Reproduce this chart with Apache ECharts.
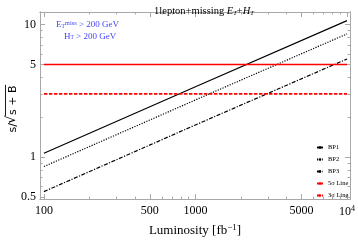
<!DOCTYPE html>
<html><head><meta charset="utf-8">
<script src="https://cdn.jsdelivr.net/npm/echarts@6/dist/echarts.min.js"></script>
<style>html,body{margin:0;padding:0;background:#fff}#c{width:358px;height:242px}</style>
</head><body><div id="c"></div>
<script>
const luminosity = [100, 1000, 10000];
const bp1 = [1.07, 3.4, 10.7];
const bp2 = [0.85, 2.7, 8.5];
const bp3 = [0.55, 1.75, 5.5];
const sigma5 = [5, 5, 5];
const sigma3 = [3, 3, 3];
const seriesNames = ['BP1', 'BP2', 'BP3', '5σ Line', '3σ Line'];
const xTickLabels = [100, 500, 1000, 5000, 10000];
const xMinorTicks = [200, 300, 400, 600, 700, 800, 900, 2000, 3000, 4000, 6000, 7000, 8000, 9000];
const yTickLabels = [0.5, 1, 5, 10];
const yMinorTicks = [0.6, 0.7, 0.8, 0.9, 2, 3, 4, 6, 7, 8, 9];

const FRAME = '#a8a8a8';
const SERIF = 'Liberation Serif';
const pairs = ys => luminosity.map((x, i) => [x, ys[i]]);

function xAx(pos, vals, len, labels) {
  return {
    type: 'log', logBase: 10, position: pos, min: 94.2, max: 10470,
    axisLine: { show: true, lineStyle: { color: FRAME, width: 1 } },
    axisTick: { show: true, inside: true, length: len, customValues: vals, lineStyle: { color: FRAME } },
    axisLabel: labels ? {
      show: true, customValues: vals, color: '#000', fontFamily: SERIF, fontSize: 12, margin: 6,
      formatter: v => (Math.abs(v - 10000) < 1 ? '{b|10}{p|4}' : String(Math.round(v))),
      rich: { b: { fontFamily: SERIF, fontSize: 12, color: '#000' }, p: { fontFamily: SERIF, fontSize: 8, color: '#000', verticalAlign: 'top', padding: [0, 0, 6, 0] } }
    } : { show: false },
    splitLine: { show: false }, minorTick: { show: false }
  };
}
function yAx(pos, vals, len, labels) {
  return {
    type: 'log', logBase: 10, position: pos, min: 0.483, max: 12.43,
    axisLine: { show: true, lineStyle: { color: FRAME, width: 1 } },
    axisTick: { show: true, inside: true, length: len, customValues: vals, lineStyle: { color: FRAME } },
    axisLabel: labels ? {
      show: true, customValues: vals, color: '#000', fontFamily: SERIF, fontSize: 12, margin: 4,
      formatter: v => String(v)
    } : { show: false },
    splitLine: { show: false }, minorTick: { show: false }
  };
}

const xAxes = [xAx('bottom', xTickLabels, 5, true), xAx('bottom', xMinorTicks, 2.5, false), xAx('top', xTickLabels, 5, false), xAx('top', xMinorTicks, 2.5, false)];
xAxes[0].name = 'Luminosity [fb{s|−1}]';
xAxes[0].nameLocation = 'middle';
xAxes[0].nameGap = 22;
xAxes[0].nameTextStyle = { fontFamily: SERIF, fontSize: 13, color: '#000', rich: { s: { fontFamily: SERIF, fontSize: 9, color: '#000', verticalAlign: 'top', padding: [0, 0, 6, 0] } } };
const yAxes = [yAx('left', yTickLabels, 5, true), yAx('left', yMinorTicks, 2.5, false), yAx('right', yTickLabels, 5, false), yAx('right', yMinorTicks, 2.5, false)];

// y-axis title s/sqrt(s+B), drawn as rotated group
const YF = '11px "DejaVu Sans"';
const mctx = document.createElement('canvas').getContext('2d');
mctx.font = YF;
const wPre = mctx.measureText('s/').width;
mctx.font = '13px "DejaVu Sans"';
const wRad = mctx.measureText('√').width;
mctx.font = YF;
const wIn = mctx.measureText('s + B').width;
const wTot = wPre + wRad + wIn;
const x0 = -wTot / 2;
const yTitle = {
  type: 'group', x: 13, y: 109, rotation: Math.PI / 2, silent: true,
  children: [
    { type: 'text', x: x0, y: 0, style: { text: 's/', font: YF, fill: '#000', textVerticalAlign: 'middle', textAlign: 'left' } },
    { type: 'text', x: x0 + wPre - 0.5, y: -1, style: { text: '√', font: '13px "DejaVu Sans"', fill: '#000', textVerticalAlign: 'middle', textAlign: 'left' } },
    { type: 'text', x: x0 + wPre + wRad, y: 0.5, style: { text: 's + B', font: YF, fill: '#000', textVerticalAlign: 'middle', textAlign: 'left' } },
    { type: 'line', shape: { x1: x0 + wPre + wRad - 1, y1: -7.5, x2: x0 + wTot + 0.5, y2: -7.5 }, style: { stroke: '#000', lineWidth: 0.9 } }
  ]
};

function ser(name, ys, color, type, width) {
  return { name, type: 'line', data: pairs(ys), xAxisIndex: 0, yAxisIndex: 0, symbol: 'none', silent: true, animation: false,
    lineStyle: { color, width, type }, itemStyle: { color } };
}

const BLUE = '#4646ff';
const chart = echarts.init(document.getElementById('c'), null, { renderer: 'canvas' });
chart.setOption({
  animation: false,
  backgroundColor: '#fff',
  title: {
    text: '1lepton+missing {i|E}{s|T}+{i|H}{s|T}', left: 199, textAlign: 'center', top: 1,
    textStyle: { fontFamily: SERIF, fontSize: 10.5, fontWeight: 'normal', color: '#000',
      rich: { i: { fontFamily: SERIF, fontStyle: 'italic', fontSize: 10.5, color: '#000' }, s: { fontFamily: SERIF, fontStyle: 'italic', fontSize: 6.5, color: '#000', verticalAlign: 'bottom', padding: [4, 0, 0, 0] } } }
  },
  grid: { left: 40, right: 7, top: 12, bottom: 36, containLabel: false },
  xAxis: xAxes,
  yAxis: yAxes,
  legend: {
    orient: 'vertical', left: 316, top: 144, padding: 0, itemWidth: 6, itemHeight: 3, itemGap: 5,
    data: seriesNames,
    textStyle: { fontFamily: SERIF, fontSize: 6.5, color: '#000' },
    selectedMode: false
  },
  graphic: [
    yTitle,
    { type: 'text', left: 56, top: 20, style: { text: 'E{s|T}{p|miss} > 200 GeV', fill: BLUE, font: '9px "Liberation Serif"',
      rich: { s: { fontSize: 5.5, fontFamily: SERIF, fill: BLUE, verticalAlign: 'bottom', padding: [3, 0, 0, 0] }, p: { fontSize: 6.5, fontFamily: SERIF, fill: BLUE, verticalAlign: 'top', padding: [0, 0, 3, 0] } } } },
    { type: 'text', left: 64, top: 32, style: { text: 'H{s|T} > 200 GeV', fill: BLUE, font: '9px "Liberation Serif"',
      rich: { s: { fontSize: 5.5, fontFamily: SERIF, fill: BLUE, verticalAlign: 'bottom', padding: [3, 0, 0, 0] } } } }
  ],
  series: [
    ser('BP1', bp1, '#000', 'solid', 1.2),
    ser('BP2', bp2, '#000', [1.2, 1.4], 1.2),
    ser('BP3', bp3, '#000', [4, 1.5, 1.2, 1.5], 1.2),
    ser('5σ Line', sigma5, '#ff0000', 'solid', 1.6),
    ser('3σ Line', sigma3, '#ff0000', [3.5, 1.5], 1.6)
  ]
});
</script></body></html>
